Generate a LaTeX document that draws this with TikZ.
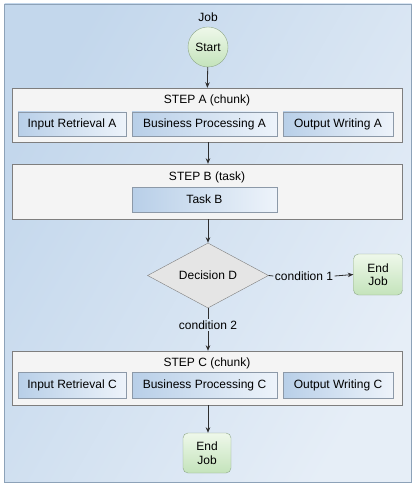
\documentclass[tikz,border=0pt]{standalone}
\usepackage{fontspec}
\setmainfont{Liberation Sans}
\usetikzlibrary{arrows.meta,shapes.geometric}

\definecolor{jobdark}{HTML}{C3D7EC}
\definecolor{joblight}{HTML}{E6EEF7}
\definecolor{jobedge}{HTML}{8DA2B8}
\definecolor{stepfill}{HTML}{F4F4F4}
\definecolor{stepedge}{HTML}{7E7E7E}
\definecolor{partdark}{HTML}{B8CFE8}
\definecolor{partlight}{HTML}{EDF3FA}
\definecolor{partedge}{HTML}{8C99A8}
\definecolor{greenlight}{HTML}{EEF8EA}
\definecolor{greendark}{HTML}{C4E3BB}
\definecolor{greenedge}{HTML}{8FA88A}
\definecolor{decfill}{HTML}{E5E5E5}
\definecolor{lineclr}{HTML}{2E2E2E}

\tikzset{
	txt/.style={font=\fontsize{12}{13.5}\selectfont, text=black},
	stepbox/.style={draw=stepedge, fill=stepfill, minimum width=390pt, minimum height=54pt, inner sep=0pt},
	partbox/.style={txt, draw=partedge, left color=partdark, right color=partlight, minimum height=24pt, inner sep=0pt},
	endbox/.style={txt, draw=greenedge, top color=greenlight, bottom color=greendark, rounded corners=5pt,
		minimum width=49pt, minimum height=41pt, inner sep=0pt, align=center},
	flow/.style={draw=lineclr, line width=0.8pt, -{Stealth[length=5.5pt,width=4.5pt]}},
	plain/.style={draw=lineclr, line width=0.8pt}
}

\begin{document}
\begin{tikzpicture}[x=1pt, y=-1pt]

	\useasboundingbox (0,0) rectangle (416,486);

	% job frame
	\node[draw=jobedge, left color=jobdark, right color=joblight, shading angle=60,
		minimum width=407pt, minimum height=478pt, inner sep=0pt] (job) at (208,243) {};
	\node[txt] (joblbl) at (208,17) {Job};

	% start
	\node[txt, circle, draw=greenedge, top color=greenlight, bottom color=greendark,
		minimum size=40pt, inner sep=0pt] (start) at (208,47) {Start};

	% step A
	\node[stepbox] (stepA) at (207,115) {};
	\node[txt] (stepAlbl) at (207,100) {STEP A (chunk)};
	\node[partbox, minimum width=108pt] (inA)   at (72,124)    {Input Retrieval A};
	\node[partbox, minimum width=145pt] (procA) at (204.5,124) {Business Processing A};
	\node[partbox, minimum width=110pt] (outA)  at (338,124)   {Output Writing A};

	% step B
	\node[stepbox, minimum height=55pt] (stepB) at (207,191.5) {};
	\node[txt] (stepBlbl) at (207,177) {STEP B (task)};
	\node[partbox, minimum width=145pt, minimum height=25pt] (taskB) at (204.5,199.5) {Task B};

	% decision
	\node[txt, diamond, draw=stepedge, fill=decfill, aspect=1.86,
		minimum width=121pt, minimum height=65pt, inner sep=0pt] (dec) at (208,275.5) {Decision D};
	\node[txt, inner sep=1.5pt] (cond1) at (304,276) {condition 1};
	\node[endbox] (end1) at (378,274.5) {End\\Job};
	\node[txt, inner sep=1.5pt] (cond2) at (208,325) {condition 2};

	% step C
	\node[stepbox] (stepC) at (207,378) {};
	\node[txt] (stepClbl) at (207,363) {STEP C (chunk)};
	\node[partbox, minimum width=108pt, minimum height=26pt] (inC)   at (72,385)    {Input Retrieval C};
	\node[partbox, minimum width=145pt, minimum height=26pt] (procC) at (204.5,385) {Business Processing C};
	\node[partbox, minimum width=110pt, minimum height=26pt] (outC)  at (338,385)   {Output Writing C};

	% end
	\node[endbox, minimum width=48pt, minimum height=40pt] (end2) at (207,453) {End\\Job};

	% connectors
	\draw[flow] (start) -- (stepA);
	\draw[flow] (stepA.south -| start) -- (stepB.north -| start);
	\draw[flow] (stepB.south -| start) -- (dec.north);
	\draw[plain] (dec.east) -- (cond1.west);
	\draw[flow] (cond1.east) -- (end1.west);
	\draw[plain] (dec.south) -- (cond2.north);
	\draw[flow] (cond2.south) -- (stepC.north -| cond2);
	\draw[flow] (stepC.south -| cond2) -- (end2.north -| cond2);

\end{tikzpicture}
\end{document}
